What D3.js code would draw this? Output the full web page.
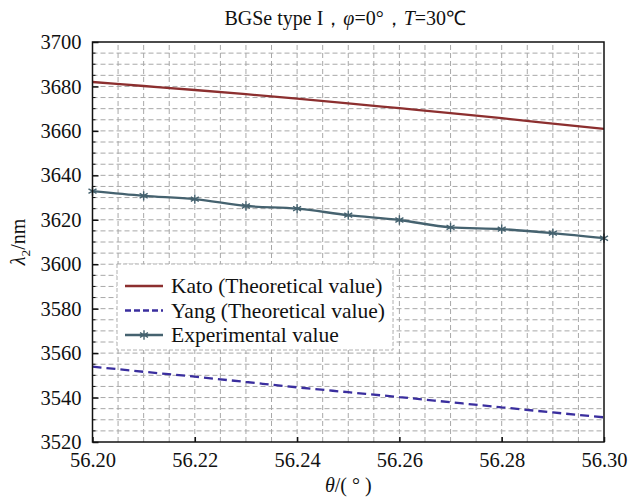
<!DOCTYPE html>
<html>
<head>
<meta charset="utf-8">
<script src="https://cdn.jsdelivr.net/npm/d3@7"></script>
<style>
  body { margin: 0; background: #fff; }
  svg text { font-family: "Liberation Serif", "Times New Roman", serif; fill: #111; }
</style>
</head>
<body>
<svg id="chart" width="630" height="499"></svg>
<script>
let thetas = [56.20, 56.21, 56.22, 56.23, 56.24, 56.25, 56.26, 56.27, 56.28, 56.29, 56.30]
let kato = [3682.0, 3680.2, 3678.4, 3676.5, 3674.5, 3672.4, 3670.2, 3668.0, 3665.7, 3663.3, 3660.9]
let yang = [3553.9, 3551.6, 3549.4, 3547.0, 3544.6, 3542.4, 3540.2, 3537.9, 3535.6, 3533.3, 3531.1]
let experimental = [3632.9, 3630.8, 3629.3, 3626.2, 3625.0, 3622.1, 3619.9, 3616.6, 3615.8, 3614.0, 3611.7]
let xTicks = [56.20, 56.22, 56.24, 56.26, 56.28, 56.30]
let yTicks = [3520, 3540, 3560, 3580, 3600, 3620, 3640, 3660, 3680, 3700]
let legendLabels = ["Kato (Theoretical value)", "Yang (Theoretical value)", "Experimental value"]

let marginLeft = 92.5,
    marginRight = 26,
    marginTop = 42,
    marginBottom = 57;

let svg = d3.select("#chart"),
    width = 630,
    height = 499

let x = d3.scaleLinear([56.20, 56.30], [marginLeft, width - marginRight]),
    y = d3.scaleLinear([3520, 3700], [height - marginBottom, marginTop]);

// dashed grid, every 0.005 / 5 nm
let gx = d3.range(0, 21).map(i => 56.20 + i * 0.005),
    gy = d3.range(0, 37).map(i => 3520 + i * 5)
let grid = svg.append('g')
    .attr('stroke', '#a8a8a8')
    .attr('stroke-width', 1)
    .attr('stroke-dasharray', '5,3')
grid.selectAll('.gv')
    .data(gx.slice(1, -1))
    .join('line')
    .attr('x1', d => x(d)).attr('x2', d => x(d))
    .attr('y1', y(3520)).attr('y2', y(3700))
grid.selectAll('.gh')
    .data(gy.slice(1, -1))
    .join('line')
    .attr('y1', d => y(d)).attr('y2', d => y(d))
    .attr('x1', x(56.20)).attr('x2', x(56.30))

// series
let series = [
    {name: legendLabels[0], values: kato, color: "#8c2f2f", dash: null, marker: false},
    {name: legendLabels[1], values: yang, color: "#3a2e9e", dash: "9,5", marker: false},
    {name: legendLabels[2], values: experimental, color: "#45626f", dash: null, marker: true},
]
let line = d3.line()
    .x((d, i) => x(thetas[i]))
    .y(d => y(d))
    .curve(d3.curveMonotoneX)

let star = d3.symbol().type(d3.symbolAsterisk).size(60)

series.forEach(s => {
    svg.append('path')
        .attr('d', line(s.values))
        .attr('fill', 'none')
        .attr('stroke', s.color)
        .attr('stroke-width', 2.3)
        .attr('stroke-dasharray', s.dash)
    if (s.marker) {
        svg.append('g')
            .selectAll('path')
            .data(s.values)
            .join('path')
            .attr('transform', (d, i) => `translate(${x(thetas[i])},${y(d)})`)
            .attr('d', star())
            .attr('fill', 'none')
            .attr('stroke', s.color)
            .attr('stroke-width', 1.4)
    }
})

// frame + axes
svg.append('rect')
    .attr('x', x(56.20)).attr('y', y(3700))
    .attr('width', x(56.30) - x(56.20)).attr('height', y(3520) - y(3700))
    .attr('fill', 'none').attr('stroke', '#111').attr('stroke-width', 1.5)

let yMinor = gy.filter(d => d % 20 !== 0)
svg.append('g')
    .selectAll('line')
    .data(yMinor)
    .join('line')
    .attr('x1', x(56.20)).attr('x2', x(56.20) + 3)
    .attr('y1', d => y(d)).attr('y2', d => y(d))
    .attr('stroke', '#111')

let yAxis = svg.append('g')
    .attr('transform', `translate(${x(56.20)},0)`)
    .call(d3.axisLeft(y).tickValues(yTicks).tickSizeInner(-6).tickSizeOuter(0).tickPadding(11).tickFormat(d3.format('d')))
yAxis.select('.domain').remove()
yAxis.selectAll('line').attr('stroke', '#111').attr('stroke-width', 1.5)
yAxis.selectAll('text').attr('font-size', 20.5).attr('fill', '#111')

let xAxis = svg.append('g')
    .attr('transform', `translate(0,${y(3520)})`)
    .call(d3.axisBottom(x).tickValues(xTicks).tickSizeInner(-5).tickSizeOuter(0).tickPadding(10).tickFormat(d3.format('.2f')))
xAxis.select('.domain').remove()
xAxis.selectAll('line').attr('stroke', '#111').attr('stroke-width', 1.5)
xAxis.selectAll('text').attr('font-size', 20.5).attr('fill', '#111')

// title
let cx = (x(56.20) + x(56.30)) / 2
let title = svg.append('text')
    .attr('x', cx - 3).attr('y', 25)
    .attr('text-anchor', 'middle')
    .attr('font-size', 20)
title.append('tspan').text('BGSe type I，')
title.append('tspan').attr('font-style', 'italic').text('φ')
title.append('tspan').text('=0°，')
title.append('tspan').attr('font-style', 'italic').text('T')
title.append('tspan').text('=30℃')

// axis labels
let xl = svg.append('text')
    .attr('x', cx).attr('y', 492)
    .attr('text-anchor', 'middle')
    .attr('font-size', 20)
xl.append('tspan').attr('font-style', 'italic').text('θ')
xl.append('tspan').text('/( ° )')

let yl = svg.append('text')
    .attr('transform', `translate(25,${(y(3520) + y(3700)) / 2}) rotate(-90)`)
    .attr('text-anchor', 'middle')
    .attr('font-size', 20)
yl.append('tspan').attr('font-style', 'italic').text('λ')
yl.append('tspan').attr('font-size', 13.5).attr('dy', 5).text('2')
yl.append('tspan').attr('dy', -5).text('/nm')

// legend
let lg = svg.append('g').attr('transform', 'translate(117,264)')
lg.append('rect')
    .attr('width', 276).attr('height', 86)
    .attr('fill', '#fff')
    .attr('stroke', '#b0b0b0')
    .attr('stroke-dasharray', '4,2')
let items = lg.selectAll('g.item')
    .data(series)
    .join('g')
    .attr('transform', (d, i) => `translate(0,${22 + i * 24.5})`)
items.append('line')
    .attr('x1', 8).attr('x2', 46)
    .attr('stroke', d => d.color)
    .attr('stroke-width', 2.3)
    .attr('stroke-dasharray', d => d.dash ? '6,3' : null)
items.filter(d => d.marker).append('path')
    .attr('transform', 'translate(27,0)')
    .attr('d', star())
    .attr('fill', 'none')
    .attr('stroke', d => d.color)
    .attr('stroke-width', 1.4)
items.append('text')
    .attr('x', 54).attr('y', 7)
    .attr('font-size', 21.5)
    .text(d => d.name)
</script>
</body>
</html>
